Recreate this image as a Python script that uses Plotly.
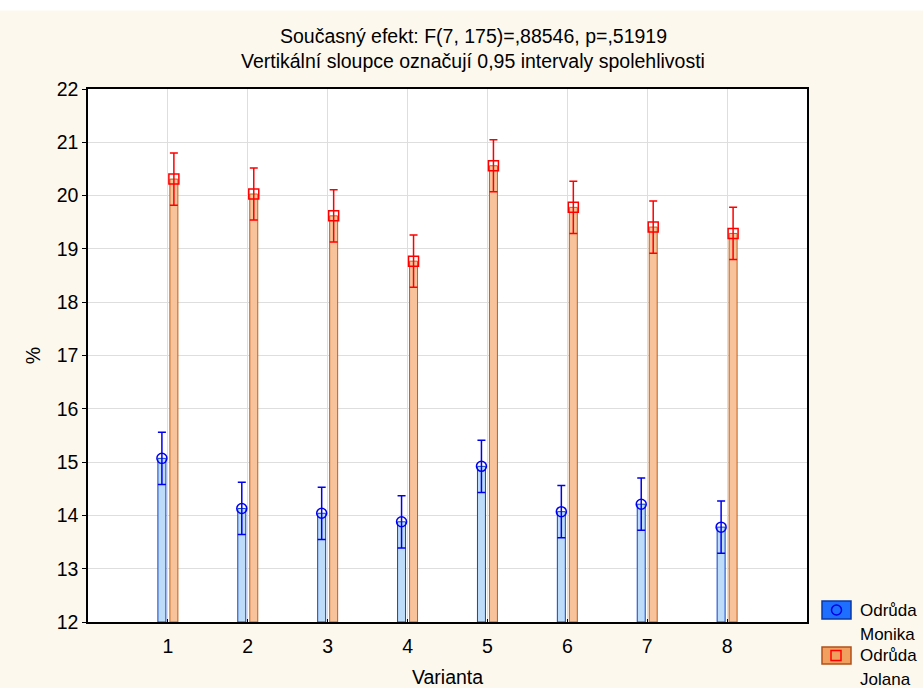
import plotly.graph_objects as go

categories = [1, 2, 3, 4, 5, 6, 7, 8]
tick_labels = ["1", "2", "3", "4", "5", "6", "7", "8"]
monika_mean = [15.07, 14.13, 14.04, 13.88, 14.92, 14.07, 14.21, 13.78]
monika_ci = [0.49, 0.49, 0.49, 0.49, 0.49, 0.49, 0.49, 0.49]
jolana_mean = [20.31, 20.03, 19.62, 18.77, 20.56, 19.78, 19.41, 19.29]
jolana_ci = [0.49, 0.49, 0.49, 0.49, 0.49, 0.49, 0.49, 0.49]
y_ticks = list(range(12, 23))
y_base = 12

W, H = 923, 688
L, R, T, B = 88, 116, 89, 66
PW, PH = W - L - R, H - T - B

def px(xp):
    return (xp - L) / PW

def py(yp):
    return (H - B - yp) / PH

FONT = "Liberation Sans, Arial, sans-serif"
off = 0.075
bw = 0.1

fig = go.Figure()
fig.add_trace(go.Bar(
    x=categories, y=[v - y_base for v in monika_mean], base=y_base,
    width=bw, offset=-off - bw / 2,
    marker=dict(color="#BCDCFA", line=dict(color="#1040C8", width=1)),
    showlegend=False, hoverinfo="skip"))
fig.add_trace(go.Bar(
    x=categories, y=[v - y_base for v in jolana_mean], base=y_base,
    width=bw, offset=off - bw / 2,
    marker=dict(color="#F8C29A", line=dict(color="#C0601A", width=1)),
    showlegend=False, hoverinfo="skip"))
fig.add_trace(go.Scatter(
    x=[c - off for c in categories], y=monika_mean, mode="markers",
    marker=dict(symbol="circle-open", size=10, color="#0000F0", line=dict(width=1.5)),
    error_y=dict(type="data", array=monika_ci, color="#0000F0", thickness=1.5, width=4),
    showlegend=False))
fig.add_trace(go.Scatter(
    x=[c + off for c in categories], y=jolana_mean, mode="markers",
    marker=dict(symbol="square-open", size=10, color="#FF0000", line=dict(width=1.5)),
    error_y=dict(type="data", array=jolana_ci, color="#FF0000", thickness=1.5, width=4),
    showlegend=False))

shapes = [
    dict(type="rect", xref="paper", yref="paper", x0=px(0), x1=px(W), y0=py(10.5), y1=py(0),
         fillcolor="white", line=dict(width=0), layer="above"),
    dict(type="rect", xref="paper", yref="paper", x0=px(822), x1=px(851), y0=py(619), y1=py(601),
         fillcolor="#1E6EFF", line=dict(color="#0838A8", width=1.5)),
    dict(type="circle", xref="paper", yref="paper", x0=px(831.5), x1=px(841.5), y0=py(615), y1=py(605),
         line=dict(color="#0000E0", width=1.5)),
    dict(type="rect", xref="paper", yref="paper", x0=px(822), x1=px(851), y0=py(664), y1=py(647),
         fillcolor="#F2A060", line=dict(color="#B0501A", width=1.5)),
    dict(type="rect", xref="paper", yref="paper", x0=px(831), x1=px(841), y0=py(660.5), y1=py(650.5),
         line=dict(color="#FF0000", width=1.5)),
]

TF = 19.5
LF = 17

def ann(text, x, y, size, xanchor="center"):
    return dict(text=text, xref="paper", yref="paper", x=px(x), y=py(y),
                xanchor=xanchor, yanchor="middle", showarrow=False,
                font=dict(size=size, color="black", family=FONT))

annotations = [
    ann("Současný efekt: F(7, 175)=,88546, p=,51919", 473, 36, TF),
    ann("Vertikální sloupce označují 0,95 intervaly spolehlivosti", 473, 61, TF),
    ann("Odrůda", 858, 610, LF, "left"),
    ann("Monika", 858, 634, LF, "left"),
    ann("Odrůda", 858, 655, LF, "left"),
    ann("Jolana", 858, 679, LF, "left"),
]

fig.update_layout(
    width=W, height=H,
    margin=dict(l=L, r=R, t=T, b=B, autoexpand=False),
    paper_bgcolor="#FDF8EE", plot_bgcolor="white",
    font=dict(family=FONT, size=19.5, color="black"),
    barmode="overlay",
    showlegend=False,
    shapes=shapes, annotations=annotations,
    xaxis=dict(range=[0, 9], tickvals=categories, ticktext=tick_labels,
               showgrid=True, gridcolor="#DEDEDE", gridwidth=1,
               showline=True, linecolor="black", linewidth=1.5, mirror=True,
               ticks="inside", ticklen=3, tickcolor="black", zeroline=False,
               tickfont=dict(size=19.5), ticklabelstandoff=6,
               title=dict(text="Varianta", font=dict(size=19.5), standoff=14)),
    yaxis=dict(range=[12, 22], tickvals=y_ticks,
               showgrid=True, gridcolor="#DEDEDE", gridwidth=1,
               showline=True, linecolor="black", linewidth=1.5, mirror=True,
               ticks="outside", ticklen=4, tickcolor="black", zeroline=False,
               tickfont=dict(size=19.5),
               title=dict(text="%", font=dict(size=19.5), standoff=11)),
)

fig.write_html("out.html", config={"displayModeBar": False},
               post_script="document.body.style.margin='0';document.body.style.padding='0';")
